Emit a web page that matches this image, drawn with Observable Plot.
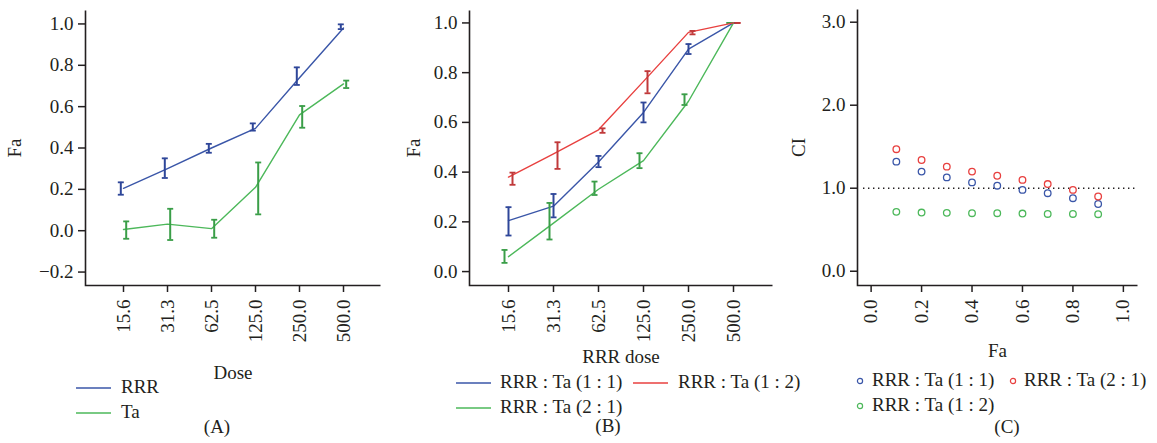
<!DOCTYPE html>
<html>
<head>
<meta charset="utf-8">
<script src="https://cdn.jsdelivr.net/npm/d3@7"></script>
<script src="https://cdn.jsdelivr.net/npm/@observablehq/plot@0.6"></script>
<style>
  body { margin: 0; background: #fff; }
  #fig { position: relative; width: 1157px; height: 443px; overflow: hidden;
         font-family: "Liberation Serif", "Times New Roman", serif; color: #231f20; background: #fff; }
  .panel { position: absolute; top: 0; }
  .lg { position: absolute; font-size: 19px; line-height: 19px; white-space: nowrap; }
  .cap { position: absolute; font-size: 19px; line-height: 19px; white-space: nowrap; transform: translateX(-50%); }
</style>
</head>
<body>
<div id="fig"></div>
<script>
// Doses on the x axis of panels A and B
const doses = ["15.6", "31.3", "62.5", "125.0", "250.0", "500.0"];

// Panel A: single agents (mean, lower and upper error)
const rrrMean = [0.205, 0.300, 0.400, 0.495, 0.740, 0.980];
const rrrLo   = [0.174, 0.255, 0.377, 0.484, 0.705, 0.975];
const rrrHi   = [0.234, 0.350, 0.420, 0.519, 0.790, 0.998];
const taMean  = [0.006, 0.032, 0.010, 0.210, 0.560, 0.710];
const taLo    = [-0.039, -0.045, -0.034, 0.079, 0.498, 0.690];
const taHi    = [0.045, 0.106, 0.053, 0.330, 0.603, 0.726];

// Panel B: combinations by RRR dose
const c11Mean = [0.205, 0.263, 0.441, 0.640, 0.895, 1.000];
const c11Lo   = [0.145, 0.218, 0.420, 0.600, 0.875, 1.000];
const c11Hi   = [0.259, 0.312, 0.465, 0.680, 0.915, 1.000];
const c12Mean = [0.380, 0.473, 0.570, 0.765, 0.962, 1.000];
const c12Lo   = [0.349, 0.413, 0.558, 0.717, 0.954, 1.000];
const c12Hi   = [0.398, 0.520, 0.576, 0.806, 0.968, 1.000];
const c21Mean = [0.060, 0.195, 0.331, 0.446, 0.685, 1.000];
const c21Lo   = [0.035, 0.129, 0.308, 0.416, 0.670, 1.000];
const c21Hi   = [0.087, 0.276, 0.362, 0.476, 0.713, 1.000];

// Panel C: combination index against fraction affected
const faLevels = [0.1, 0.2, 0.3, 0.4, 0.5, 0.6, 0.7, 0.8, 0.9];
const ci11 = [1.32, 1.20, 1.13, 1.07, 1.03, 0.98, 0.94, 0.88, 0.81];
const ci21 = [1.47, 1.34, 1.26, 1.20, 1.15, 1.10, 1.05, 0.98, 0.90];
const ci12 = [0.715, 0.707, 0.703, 0.699, 0.699, 0.695, 0.690, 0.690, 0.687];

// Tick values
const yTicksA = [-0.2, 0, 0.2, 0.4, 0.6, 0.8, 1.0];
const yTicksB = [0, 0.2, 0.4, 0.6, 0.8, 1.0];
const yTicksC = [0, 1, 2, 3];
const xTicksC = [0, 0.2, 0.4, 0.6, 0.8, 1.0];

const ink = "#231f20";
const blue = "#3a56a8", blueBar = "#2e4699";
const green = "#4cb85a", greenBar = "#3a9e48";
const red = "#e8403f", redBar = "#c0393a";

const fig = document.getElementById("fig");

// horizontal cap for error bars
const capSymbol = {
  draw(ctx, size) {
    const r = Math.sqrt(size / Math.PI);
    ctx.moveTo(-r, 0);
    ctx.lineTo(r, 0);
  }
};

const baseStyle = {
  fontFamily: '"Liberation Serif", "Times New Roman", serif',
  fontSize: "19px",
  color: ink,
  background: "transparent",
  overflow: "visible"
};

function seriesRows(mean, lo, hi) {
  return doses.map((d, i) => ({dose: d, mean: mean[i], lo: lo[i], hi: hi[i]}));
}

function seriesMarks(rows, lineColor, barColor, dx) {
  return [
    Plot.line(rows, {x: "dose", y: "mean", stroke: lineColor, strokeWidth: 1.4}),
    Plot.ruleX(rows, {x: "dose", y1: "lo", y2: "hi", stroke: barColor, strokeWidth: 2, dx}),
    Plot.dot(rows, {x: "dose", y: "lo", symbol: capSymbol, r: 3, stroke: barColor, strokeWidth: 1.8, fill: "none", dx}),
    Plot.dot(rows, {x: "dose", y: "hi", symbol: capSymbol, r: 3, stroke: barColor, strokeWidth: 1.8, fill: "none", dx})
  ];
}

function placePanel(svg, left) {
  const wrap = document.createElement("div");
  wrap.className = "panel";
  wrap.style.left = left + "px";
  wrap.appendChild(svg);
  fig.appendChild(wrap);
}

// Left and bottom edges of the frame only: the rect outline starts at its
// top-left corner and runs clockwise, so the first (top + right) run is a gap.
function axisFrame(dims) {
  const w = dims.width - dims.marginLeft - dims.marginRight;
  const h = dims.height - dims.marginTop - dims.marginBottom;
  return Plot.frame({stroke: ink, strokeWidth: 1.6, strokeDasharray: `0 ${w + h} ${w + h + 4}`});
}

function axes({yTicks, yLabelOffset, xLabel, xLabelOffset, xTicks, yLabel}) {
  return [
    Plot.axisY({ticks: yTicks, tickFormat: d3.format(".1f"), tickSize: 7, tickPadding: 5,
      label: yLabel, labelAnchor: "center", labelArrow: "none", labelOffset: yLabelOffset,
      stroke: ink, strokeWidth: 1.5, fill: ink}),
    Plot.axisX({ticks: xTicks, tickFormat: xTicks ? d3.format(".1f") : undefined, tickRotate: -90,
      tickSize: 7, tickPadding: 7, label: xLabel, labelAnchor: "center", labelArrow: "none",
      labelOffset: xLabelOffset, stroke: ink, strokeWidth: 1.5, fill: ink})
  ];
}

// ---- Panel A
const dimsA = {width: 400, height: 385, marginLeft: 85, marginRight: 20, marginTop: 10, marginBottom: 100};
const plotA = Plot.plot({
  ...dimsA,
  style: baseStyle,
  x: {type: "point", domain: doses, padding: 0.84},
  y: {domain: [-0.265, 1.065]},
  marks: [
    axisFrame(dimsA),
    ...axes({yTicks: yTicksA, yLabel: "Fa", yLabelOffset: 78, xLabel: "Dose", xLabelOffset: 93}),
    ...seriesMarks(seriesRows(rrrMean, rrrLo, rrrHi), blue, blueBar, -2.7),
    ...seriesMarks(seriesRows(taMean, taLo, taHi), green, greenBar, 2.7)
  ]
});
placePanel(plotA, 0);

// ---- Panel B
const dimsB = {width: 400, height: 370, marginLeft: 89, marginRight: 8, marginTop: 10, marginBottom: 85};
const plotB = Plot.plot({
  ...dimsB,
  style: baseStyle,
  x: {type: "point", domain: doses, padding: 0.83},
  y: {domain: [-0.056, 1.05]},
  marks: [
    axisFrame(dimsB),
    ...axes({yTicks: yTicksB, yLabel: "Fa", yLabelOffset: 63, xLabel: "RRR dose", xLabelOffset: 77}),
    ...seriesMarks(seriesRows(c11Mean, c11Lo, c11Hi), blue, blueBar, 0),
    ...seriesMarks(seriesRows(c21Mean, c21Lo, c21Hi), green, greenBar, -4),
    ...seriesMarks(seriesRows(c12Mean, c12Lo, c12Hi), red, redBar, 4)
  ]
});
placePanel(plotB, 380);

// ---- Panel C
const ciRows = (vals) => faLevels.map((f, i) => ({fa: f, ci: vals[i]}));
const dimsC = {width: 387, height: 365, marginLeft: 87, marginRight: 20, marginTop: 9, marginBottom: 80};
const plotC = Plot.plot({
  ...dimsC,
  style: baseStyle,
  x: {domain: [-0.054, 1.056]},
  y: {domain: [-0.172, 3.153]},
  marks: [
    axisFrame(dimsC),
    ...axes({yTicks: yTicksC, yLabel: "CI", yLabelOffset: 66, xLabel: "Fa", xLabelOffset: 71, xTicks: xTicksC}),
    Plot.ruleY([1], {stroke: ink, strokeWidth: 1.4, strokeDasharray: "1.4,3.6", insetLeft: 6}),
    Plot.dot(ciRows(ci12), {x: "fa", y: "ci", r: 3.3, stroke: green, strokeWidth: 1.3, fill: "white"}),
    Plot.dot(ciRows(ci11), {x: "fa", y: "ci", r: 3.3, stroke: blue, strokeWidth: 1.3, fill: "white"}),
    Plot.dot(ciRows(ci21), {x: "fa", y: "ci", r: 3.3, stroke: red, strokeWidth: 1.3, fill: "white"})
  ]
});
placePanel(plotC, 770);

// ---- Legends and panel captions
function legendItem({x, top, kind, color, label, gap}) {
  const d = document.createElement("div");
  d.className = "lg";
  d.style.left = x + "px";
  d.style.top = top + "px";
  d.style.display = "flex";
  d.style.alignItems = "center";
  const ns = "http://www.w3.org/2000/svg";
  const s = document.createElementNS(ns, "svg");
  if (kind === "line") {
    s.setAttribute("width", 35); s.setAttribute("height", 4);
    const l = document.createElementNS(ns, "line");
    l.setAttribute("x1", 0); l.setAttribute("x2", 35); l.setAttribute("y1", 2); l.setAttribute("y2", 2);
    l.setAttribute("stroke", color); l.setAttribute("stroke-width", 1.6);
    s.appendChild(l);
  } else {
    s.setAttribute("width", 8); s.setAttribute("height", 8);
    const c = document.createElementNS(ns, "circle");
    c.setAttribute("cx", 4); c.setAttribute("cy", 4); c.setAttribute("r", 2.6);
    c.setAttribute("fill", "none"); c.setAttribute("stroke", color); c.setAttribute("stroke-width", 1.2);
    s.appendChild(c);
  }
  s.style.marginRight = gap + "px";
  s.style.marginTop = "2px";
  d.appendChild(s);
  d.appendChild(document.createTextNode(label));
  fig.appendChild(d);
}

function caption(text, cx, top) {
  const d = document.createElement("div");
  d.className = "cap";
  d.style.left = cx + "px";
  d.style.top = top + "px";
  d.textContent = text;
  fig.appendChild(d);
}

const seriesA = [{label: "RRR", color: blue}, {label: "Ta", color: green}];
const seriesB = [
  {label: "RRR : Ta (1 : 1)", color: blue},
  {label: "RRR : Ta (1 : 2)", color: red},
  {label: "RRR : Ta (2 : 1)", color: green}
];
const seriesC = [
  {label: "RRR : Ta (1 : 1)", color: blue},
  {label: "RRR : Ta (2 : 1)", color: red},
  {label: "RRR : Ta (1 : 2)", color: green}
];

legendItem({x: 76, top: 377, kind: "line", ...seriesA[0], gap: 10});
legendItem({x: 76, top: 402, kind: "line", ...seriesA[1], gap: 10});
caption("(A)", 217, 417);

legendItem({x: 456, top: 372, kind: "line", ...seriesB[0], gap: 9});
legendItem({x: 633, top: 372, kind: "line", ...seriesB[1], gap: 10});
legendItem({x: 456, top: 397, kind: "line", ...seriesB[2], gap: 9});
caption("(B)", 608, 416);

legendItem({x: 856, top: 370, kind: "dot", ...seriesC[0], gap: 8});
legendItem({x: 1009, top: 370, kind: "dot", ...seriesC[1], gap: 7});
legendItem({x: 856, top: 395, kind: "dot", ...seriesC[2], gap: 8});
caption("(C)", 1007, 417);
</script>
</body>
</html>
